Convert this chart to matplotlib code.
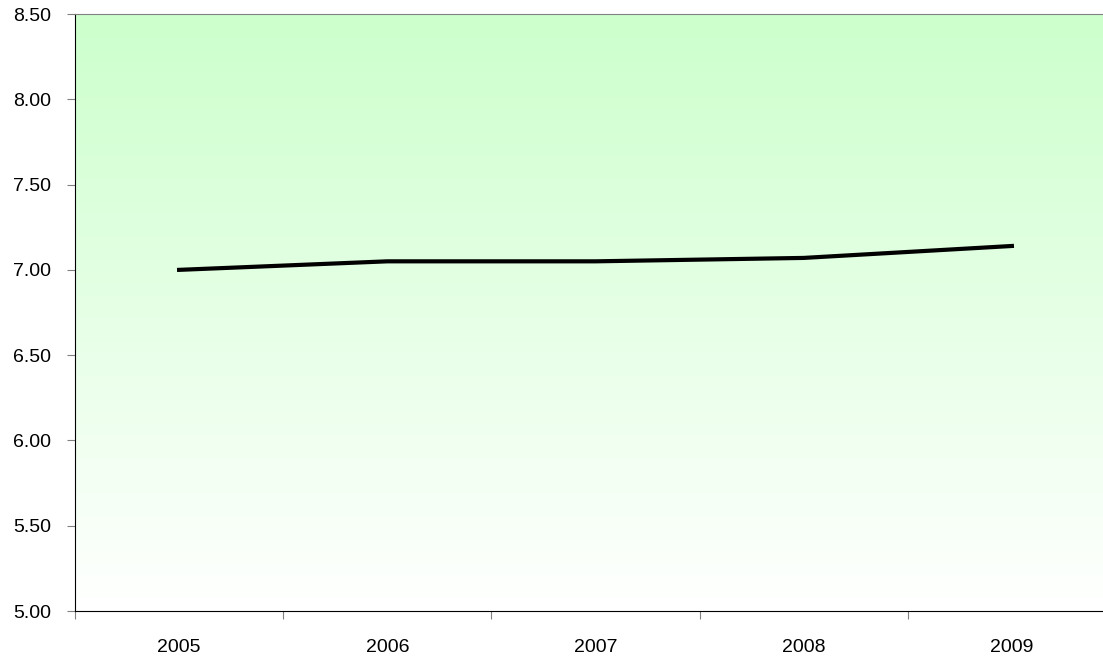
import numpy as np
import matplotlib.pyplot as plt

plt.rcParams['font.family'] = ['Liberation Sans', 'DejaVu Sans']

# Data
years = ['2005', '2006', '2007', '2008', '2009']
values = [7.00, 7.05, 7.05, 7.07, 7.14]
y_ticks = [5.00, 5.50, 6.00, 6.50, 7.00, 7.50, 8.00, 8.50]

fig = plt.figure(figsize=(11.03, 6.58), dpi=100)
ax = fig.add_axes([75 / 1103, 47 / 658, 1041 / 1103, 597 / 658])

x = np.arange(len(years))

# green-to-white gradient background (green on top)
top = np.array([204, 255, 204]) / 255
grad = np.linspace(0, 1, 256)[:, None, None]
img = top[None, None, :] * (1 - grad) + np.ones(3)[None, None, :] * grad
img = np.repeat(img, 2, axis=1)
ax.imshow(img, extent=[-0.5, len(years) - 0.5, 5.0, 8.5], origin='upper',
          aspect='auto', zorder=0)
ax.set_xlim(-0.5, len(years) - 0.5)
ax.set_ylim(5.0, 8.5)

ax.plot(x, values, color='black', linewidth=3, zorder=3)

# x axis: ticks between categories, labels at centres
ax.set_xticks(np.arange(-0.5, len(years), 1.0))
ax.set_xticklabels([])
ax.set_xticks(x, minor=True)
ax.set_xticklabels(years, minor=True, fontsize=14)
ax.tick_params(axis='x', which='major', direction='out', length=6, color='#808080')
ax.tick_params(axis='x', which='minor', length=0, pad=20)

ax.set_yticks(y_ticks)
ax.set_yticklabels(['%.2f' % v for v in y_ticks], fontsize=14)
ax.tick_params(axis='y', direction='out', length=6, color='#808080', pad=11)

ax.spines['left'].set_color('black')
ax.spines['bottom'].set_color('black')
ax.spines['top'].set_color('#808080')
ax.spines['right'].set_visible(False)

plt.savefig('out.png', dpi=100)
